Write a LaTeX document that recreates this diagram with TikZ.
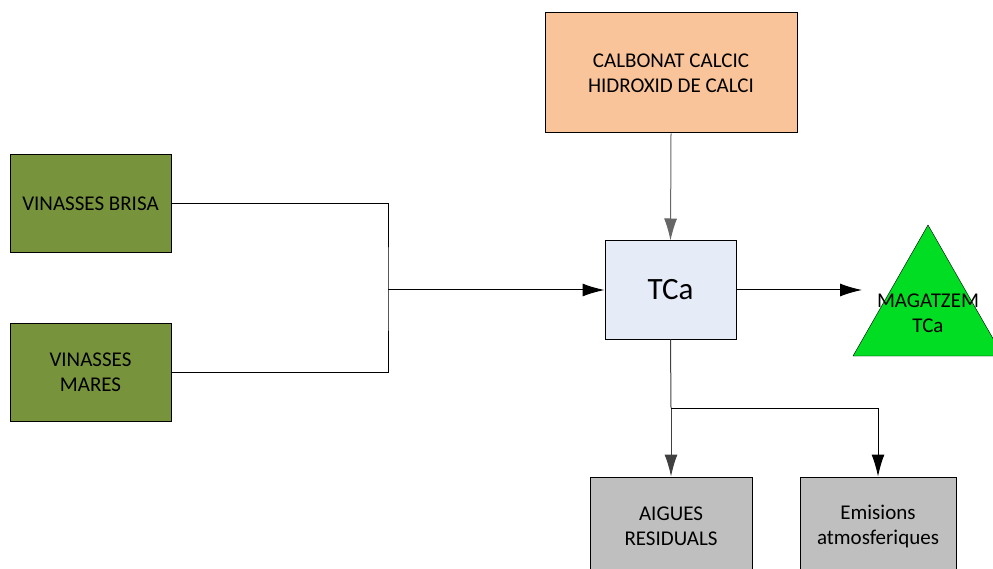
\documentclass[tikz,border=0pt]{standalone}
\usepackage{fontspec}
\setmainfont{Carlito}
\usetikzlibrary{arrows.meta}
\definecolor{vgreen}{HTML}{77933C}
\definecolor{corange}{HTML}{F9C49A}
\definecolor{cblue}{HTML}{E5ECF7}
\definecolor{cgray}{HTML}{BFBFBF}
\definecolor{sgreen}{HTML}{00DD22}
\begin{document}
\begin{tikzpicture}[x=1pt,y=-1pt,font=\fontsize{21}{25}\selectfont]
\tikzstyle{box}=[draw,line width=1pt,align=center,inner sep=0pt,minimum height=98pt]
\tikzstyle{arrow}=[draw,line width=1pt,-{Latex[length=22pt,width=13pt]}]
\tikzstyle{line}=[draw,line width=1pt]
\useasboundingbox(0,0)rectangle(993,569);
\node[box,fill=vgreen,minimum width=161pt](brisa)at(90.5,204){VINASSES BRISA};
\node[box,fill=vgreen,minimum width=161pt](mares)at(90.5,372){VINASSES\\MARES};
\node[box,fill=corange,minimum width=252pt,minimum height=120pt](calc)at(671,73){CALBONAT CALCIC\\HIDROXID DE CALCI};
\node[box,fill=cblue,minimum width=131pt,font=\fontsize{31}{37}\selectfont](tca)at(670.5,290){TCa};
\node[box,fill=cgray,minimum width=162pt](aigues)at(671,526){AIGUES\\RESIDUALS};
\node[box,fill=cgray,minimum width=156pt](emis)at(878,526){Emisions\\atmosferiques};
\path[draw,fill=sgreen](853,356)--(928,225)--(1003,356)--cycle;
\node[align=center](mag)at(928,313){MAGATZEM\\TCa};
\coordinate(join)at(388,290);
\coordinate(store)at(862,290);
\coordinate(split)at(671,408);
\path[line](brisa.east)-|(join)|-(mares.east);
\path[arrow](join)--(tca.west);
\path[arrow,draw=black!60](calc.south)--(tca.north);
\path[arrow](tca.east)--(store);
\path[line,draw=black!75](tca.south)--(split);
\path[arrow,draw=black!75](split)--(aigues.north);
\path[arrow](split)-|(emis.north);
\end{tikzpicture}
\end{document}
